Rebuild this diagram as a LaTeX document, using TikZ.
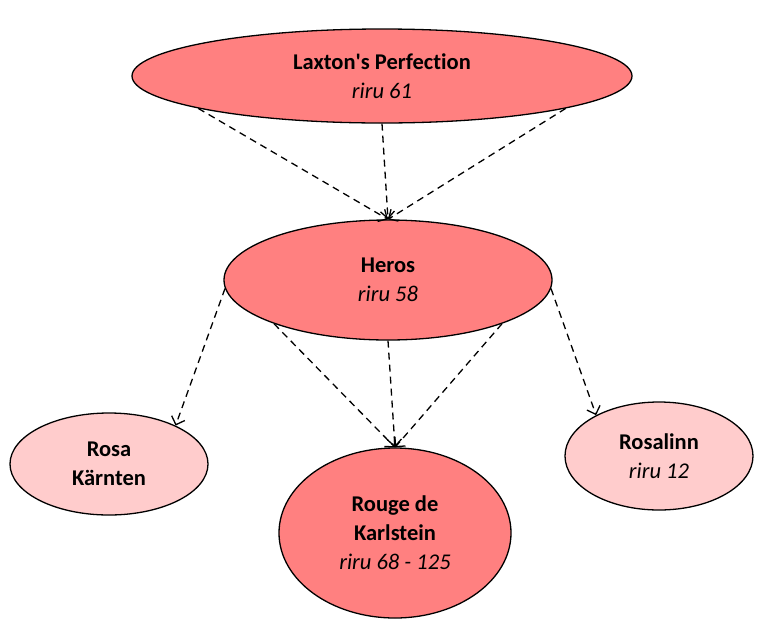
\documentclass[tikz,border=0pt]{standalone}
\usepackage{fontspec}
\setmainfont{Carlito}[Ligatures=ResetAll,RawFeature={-liga;-clig}]
\usetikzlibrary{shapes.geometric,arrows.meta}
\definecolor{rosedark}{HTML}{FF8080}
\definecolor{roselight}{HTML}{FFCCCC}
\begin{document}
\begin{tikzpicture}[x=1pt,y=-1pt,line width=1.3pt,>={Straight Barb[length=7pt,width=14pt]},
    apple/.style={ellipse,draw=black,inner sep=0pt,align=center,font=\fontsize{22.5}{29}\selectfont},
    main/.style={apple,fill=rosedark},
    side/.style={apple,fill=roselight},
    link/.style={->,dash pattern=on 7pt off 5pt}]
    \useasboundingbox (0,0) rectangle (757,619);
    % the varieties
    \node[main,minimum width=500pt,minimum height=94pt] (lax) at (382,76) {\textbf{Laxton\textquotesingle s Perfect\kern0pt ion}\\\textit{riru 61}};
    \node[main,minimum width=328pt,minimum height=120pt] (her) at (388,280) {\textbf{Heros}\\\textit{riru 58}};
    \node[side,minimum width=198pt,minimum height=102pt] (rosa) at (109,464) {\textbf{Rosa}\\\textbf{Kärnten}};
    \node[main,minimum width=232pt,minimum height=170pt] (rouge) at (395,533) {\textbf{Rouge de}\\\textbf{Karlstein}\\\textit{riru 68 - 125}};
    \node[side,minimum width=188pt,minimum height=108pt] (rosal) at (659,456) {\textbf{Rosalinn}\\\textit{riru 12}};
    % descent
    \draw[link] (lax.190) -- (her.north);
    \draw[link] (lax.south) -- (her.north);
    \draw[link] (lax.350) -- (her.north);
    \draw[link] (her.183) -- (rosa.30);
    \draw[link] (her.201) -- (rouge.north);
    \draw[link] (her.south) -- (rouge.north);
    \draw[link] (her.339) -- (rouge.north);
    \draw[link] (her.357) -- (rosal.147);
\end{tikzpicture}
\end{document}
